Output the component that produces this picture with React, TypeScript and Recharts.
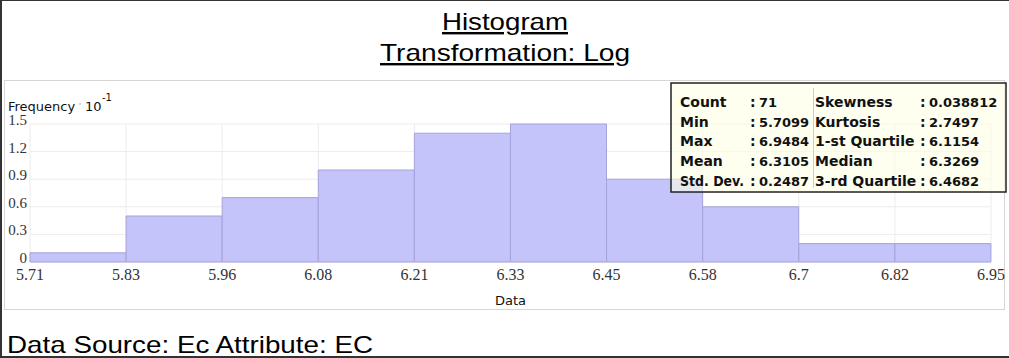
import { BarChart, Bar, XAxis, YAxis, CartesianGrid } from 'recharts';

// histogram bins (edges as printed under the axis) and frequencies (x10^-1)
const binEdges = ['5.71', '5.83', '5.96', '6.08', '6.21', '6.33', '6.45', '6.58', '6.7', '6.82', '6.95'];
const frequencies = [0.1, 0.5, 0.7, 1.0, 1.4, 1.5, 0.9, 0.6, 0.2, 0.2];
const yTicks = [0, 0.3, 0.6, 0.9, 1.2, 1.5];

const statsLeft = [
    ['Count', '71'],
    ['Min', '5.7099'],
    ['Max', '6.9484'],
    ['Mean', '6.3105'],
    ['Std. Dev.', '0.2487'],
];
const statsRight = [
    ['Skewness', '0.038812'],
    ['Kurtosis', '2.7497'],
    ['1-st Quartile', '6.1154'],
    ['Median', '6.3269'],
    ['3-rd Quartile', '6.4682'],
];

const data = frequencies.map((f, i) => ({ bin: i + 0.5, freq: f }));
const edgeTicks = binEdges.map((_, i) => i);

const W = 1009;
const H = 358;
const serif = '"Liberation Serif", "Times New Roman", serif';
const sans = '"DejaVu Sans", Verdana, sans-serif';
const arial = '"Liberation Sans", Arial, sans-serif';

// y tick labels sit a little above their grid line in the original
const YTick = ({ x, y, payload }: any) => (
    <text x={x} y={y - 4} textAnchor="end" dominantBaseline="central" fill="#333" fontSize={15} fontFamily={serif}>
        {payload.value}
    </text>
);

export default function App() {
    return (
        <div style={{ position: 'absolute', left: 0, top: 0, width: W, height: H, background: '#fff', overflow: 'hidden' }}>
            {/* outer frame */}
            <div style={{ position: 'absolute', left: 0, top: 0, width: W, height: H, boxSizing: 'border-box', borderLeft: '2px solid #333', borderTop: '1px solid #333', borderBottom: '2px solid #333' }} />
            {/* chart panel */}
            <div style={{ position: 'absolute', left: 4, top: 80, width: 1001, height: 230, boxSizing: 'border-box', border: '1px solid #d6d6d6' }} />

            <div style={{ position: 'absolute', left: 0, top: 0 }}>
                <BarChart
                    width={W}
                    height={H}
                    data={data}
                    margin={{ top: 124, right: 18, bottom: 66, left: 0 }}
                    barCategoryGap={0}
                    barGap={0}
                >
                    <CartesianGrid stroke="#ececec" />
                    <XAxis
                        dataKey="bin"
                        type="number"
                        domain={[0, 10]}
                        ticks={edgeTicks}
                        interval={0}
                        height={30}
                        tickFormatter={(v) => binEdges[v]}
                        axisLine={false}
                        tickLine={false}
                        tickSize={0}
                        tickMargin={7}
                        tick={{ fill: '#333', fontSize: 16, fontFamily: serif }}
                        label={{ value: 'Data', position: 'bottom', offset: 4, fill: '#111', fontSize: 13, fontFamily: sans }}
                    />
                    <YAxis
                        domain={[0, 1.5]}
                        ticks={yTicks}
                        interval={0}
                        width={30}
                        axisLine={false}
                        tickLine={false}
                        tickSize={0}
                        tickMargin={3}
                        tick={<YTick />}
                    />
                    <Bar dataKey="freq" fill="#c4c4fa" stroke="#a4a4dc" strokeWidth={1} isAnimationActive={false} />
                </BarChart>
            </div>

            <svg width={W} height={H} style={{ position: 'absolute', left: 0, top: 0, pointerEvents: 'none' }}>
                {/* titles */}
                <text x={505} y={30} textAnchor="middle" fontFamily={arial} fontSize={24} fill="#000" textLength={126} lengthAdjust="spacingAndGlyphs" textDecoration="underline">
                    Histogram
                </text>
                <text x={505} y={61} textAnchor="middle" fontFamily={arial} fontSize={24} fill="#000" textLength={250} lengthAdjust="spacingAndGlyphs" textDecoration="underline">
                    Transformation: Log
                </text>

                {/* y axis caption */}
                <text x={8} y={111} fontFamily={sans} fontSize={13} fill="#111">Frequency</text>
                <circle cx={80} cy={104} r={0.8} fill="#999" />
                <text x={85} y={111} fontFamily={sans} fontSize={13} fill="#111">10</text>
                <text x={102} y={101} fontFamily={sans} fontSize={10} fill="#111">-1</text>

                {/* statistics box */}
                <rect x={671} y={83} width={335} height={109} fill="rgba(255,255,230,0.6)" stroke="#222" strokeWidth={1.5} />
                <line x1={813.5} y1={88} x2={813.5} y2={188} stroke="#ccc" strokeWidth={1} />
                {statsLeft.map(([k, v], i) => (
                    <g key={k} fontFamily={sans} fontWeight="bold" fill="#111">
                        <text x={680} y={107 + i * 19.7} fontSize={14} textLength={k === 'Std. Dev.' ? 64 : undefined} lengthAdjust="spacingAndGlyphs">{k}</text>
                        <text x={750} y={107 + i * 19.7} fontSize={14}>:</text>
                        <text x={759} y={107 + i * 19.7} fontSize={13}>{v}</text>
                    </g>
                ))}
                {statsRight.map(([k, v], i) => (
                    <g key={k} fontFamily={sans} fontWeight="bold" fill="#111">
                        <text x={815} y={107 + i * 19.7} fontSize={14}>{k}</text>
                        <text x={920} y={107 + i * 19.7} fontSize={14}>:</text>
                        <text x={929} y={107 + i * 19.7} fontSize={13}>{v}</text>
                    </g>
                ))}

                {/* footer */}
                <text x={7} y={353} fontFamily={arial} fontSize={24} fill="#000" textLength={366} lengthAdjust="spacingAndGlyphs">
                    Data Source: Ec Attribute: EC
                </text>
            </svg>
        </div>
    );
}
